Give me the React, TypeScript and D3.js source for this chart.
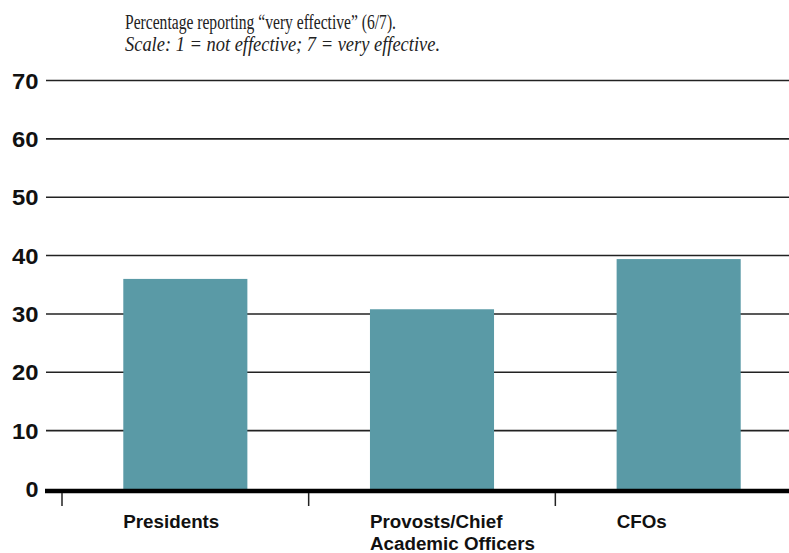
import React from "react";
import * as d3 from "d3";

const categories = ["Presidents", "Provosts/Chief|Academic Officers", "CFOs"];
const values = [36.0, 30.8, 39.4];
const yTicks = [0, 10, 20, 30, 40, 50, 60, 70];
const titleLine1 = "Percentage reporting \u201cvery effective\u201d (6/7).";
const titleLine2 = "Scale: 1 = not effective; 7 = very effective.";

const W = 789;
const H = 553;

export default function App() {
  const y = d3.scaleLinear().domain([0, 70]).range([489, 80.5]);
  const x = d3.scaleBand<string>().domain(categories).range([62, 802]).paddingInner(0).paddingOuter(0);
  const barW = x.bandwidth() * 0.503;
  const barColor = "#5a9aa6";
  const sans = "'Liberation Sans', Arial, sans-serif";
  const narrow = "'Liberation Sans Narrow', 'Liberation Sans', Arial, sans-serif";
  const serif = "'Liberation Serif', 'DejaVu Serif', serif";

  return (
    <svg
      width={W}
      height={H}
      style={{ position: "absolute", left: 0, top: 0, background: "#fff" }}
    >
      <text x={125} y={28.5} fontFamily={serif} fontSize={20.5} fill="#222" textLength={271} lengthAdjust="spacingAndGlyphs">
        {titleLine1}
      </text>
      <text x={125} y={51} fontFamily={serif} fontSize={20} fontStyle="italic" fill="#222" textLength={315} lengthAdjust="spacingAndGlyphs">
        {titleLine2}
      </text>

      {yTicks.filter((t) => t !== 0).map((t) => (
        <line key={"g" + t} x1={46} x2={W} y1={y(t)} y2={y(t)} stroke="#222" strokeWidth={1.6} />
      ))}

      {yTicks.map((t) => (
        <text
          key={"l" + t}
          x={38.5}
          y={y(t)}
          dy="0.36em"
          textAnchor="end"
          fontFamily={sans}
          fontWeight="bold"
          fontSize={22.5}
          fill="#111"
          textLength={t === 0 ? 13 : 26.5}
          lengthAdjust="spacingAndGlyphs"
        >
          {t}
        </text>
      ))}

      {categories.map((c, i) => {
        const cx = (x(c) as number) + x.bandwidth() / 2;
        return (
          <rect
            key={"b" + i}
            x={cx - barW / 2}
            y={y(values[i])}
            width={barW}
            height={y(0) - y(values[i])}
            fill={barColor}
          />
        );
      })}

      <line x1={45} x2={W} y1={491} y2={491} stroke="#000" strokeWidth={4.5} />

      {categories.map((c, i) => (
        <line
          key={"t" + i}
          x1={x(c) as number}
          x2={x(c) as number}
          y1={493}
          y2={506}
          stroke="#222"
          strokeWidth={1.5}
        />
      ))}

      {categories.map((c, i) => {
        const cx = (x(c) as number) + x.bandwidth() / 2;
        const lines = c.split("|");
        return (
          <text
            key={"c" + i}
            x={cx - barW / 2}
            y={528}
            fontFamily={narrow}
            fontWeight="bold"
            fontSize={18.8}
            fill="#111"
          >
            {lines.map((ln, j) => (
              <tspan key={j} x={cx - barW / 2} dy={j === 0 ? 0 : 21.5}>
                {ln}
              </tspan>
            ))}
          </text>
        );
      })}
    </svg>
  );
}
